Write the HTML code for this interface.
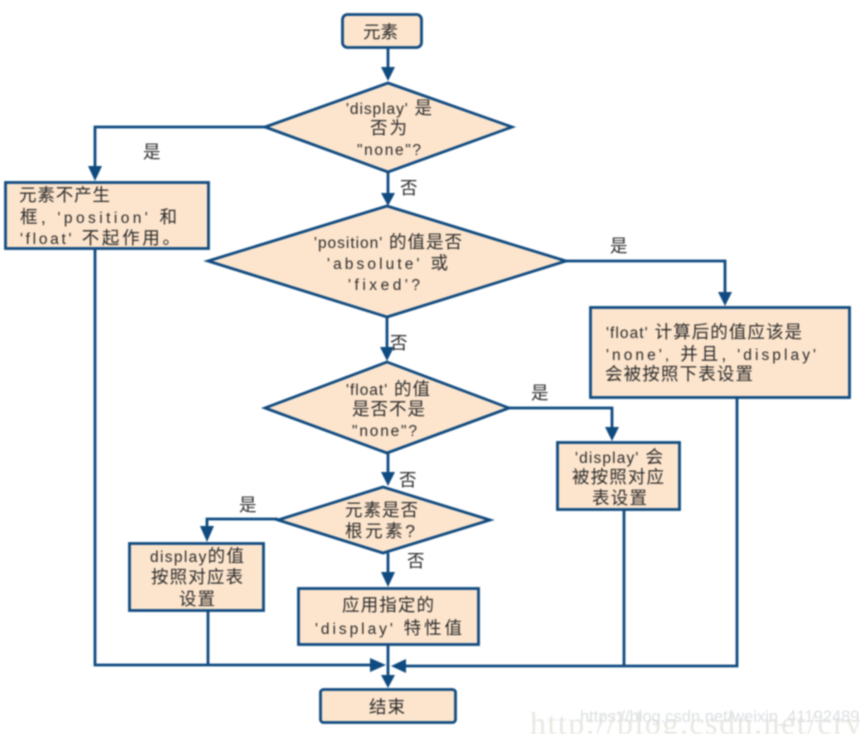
<!DOCTYPE html>
<html><head><meta charset="utf-8"><style>
html,body{margin:0;padding:0;background:#fff;width:860px;height:734px;overflow:hidden}
svg{display:block;filter:blur(.7px)}
.s{fill:#fde5cd;stroke:#0f4a80;stroke-width:2.8;stroke-linejoin:miter}
.l{fill:none;stroke:#0f4a80;stroke-width:2.8}
.a{fill:#0f4a80;stroke:none}
text{font-family:"Liberation Sans","WenQuanYi Zen Hei","Noto Sans CJK SC",sans-serif;font-size:17.5px;fill:#2a2a2a}
tspan{font-size:15.5px}
</style></head><body>
<svg width="860" height="734" viewBox="0 0 860 734" xmlns="http://www.w3.org/2000/svg">
<text x="530" y="734" style="font-family:'Liberation Serif',serif;font-size:32px;fill:#e8e8e2;letter-spacing:1.5px">http://blog.csdn.net/cry</text>
<text x="580" y="722" style="font-size:16.5px;fill:#dcdfe2">https://blog.csdn.net/weixin_41192489</text>

<path class="l" d="M388 47V70M388 172V195M387 317V350M388 453V476M265 127H95V170M566 261H725V296M509 408H612V430M278 519H207V532M388 553V577M388 645V678M95 249V665H374M208 610V665M737 398V666H404M624 509V666"/>
<path class="a" d="M381 67H395L388 81ZM381 193H395L388 206ZM380 347H394L387 361ZM381 472H395L388 486ZM88 166H102L95 181ZM718 292H732L725 306ZM605 427H619L612 441ZM200 526H214L207 542ZM381 572H395L388 587ZM381 675H395L388 688ZM370 658V672L386 665ZM406 659V673L391 666Z"/>

<rect class="s" x="342.500" y="14.500" width="79" height="33" rx="5"/>
<polygon class="s" points="388,83 512,127 388,172 265,127"/>
<rect class="s" x="5.500" y="182.500" width="203" height="66"/>
<polygon class="s" points="387,206 566,261 387,317 208,261"/>
<rect class="s" x="590.500" y="307.500" width="259" height="90"/>
<polygon class="s" points="387,362 509,408 387,453 265,408"/>
<rect class="s" x="557.500" y="442.500" width="122" height="67"/>
<polygon class="s" points="383,487 490,520 383,553 278,520"/>
<rect class="s" x="129.500" y="543.500" width="134" height="67"/>
<rect class="s" x="298.500" y="588.500" width="180" height="56"/>
<rect class="s" x="320.500" y="689.500" width="135" height="33" rx="3"/>

<text x="363" y="38" textLength="35">元素</text>
<text x="346" y="114" textLength="86"><tspan>'display'</tspan> 是</text>
<text x="370" y="134" textLength="37">否为</text>
<text x="357" y="155" textLength="64"><tspan>"none"?</tspan></text>
<text x="143" y="158" textLength="18">是</text>
<text x="400" y="194" textLength="18">否</text>
<text x="19" y="201" textLength="91">元素不产生</text>
<text x="20" y="223" textLength="157">框, <tspan>'position'</tspan> 和</text>
<text x="20" y="244" textLength="160"><tspan>'float'</tspan> 不起作用。</text>
<text x="314" y="248" textLength="148"><tspan>'position'</tspan> 的值是否</text>
<text x="327" y="269" textLength="121"><tspan>'absolute'</tspan> 或</text>
<text x="348" y="290" textLength="72"><tspan>'fixed'?</tspan></text>
<text x="610" y="252" textLength="18">是</text>
<text x="390" y="349" textLength="18">否</text>
<text x="606" y="338" textLength="196"><tspan>'float'</tspan> 计算后的值应该是</text>
<text x="606" y="360" textLength="210"><tspan>'none',</tspan> 并且, <tspan>'display'</tspan></text>
<text x="605" y="380" textLength="148">会被按照下表设置</text>
<text x="346" y="395" textLength="84"><tspan>'float'</tspan> 的值</text>
<text x="352" y="415" textLength="73">是否不是</text>
<text x="352" y="436" textLength="65"><tspan>"none"?</tspan></text>
<text x="531" y="399" textLength="18">是</text>
<text x="399" y="486" textLength="18">否</text>
<text x="575" y="463" textLength="88"><tspan>'display'</tspan> 会</text>
<text x="572" y="483" textLength="92">被按照对应</text>
<text x="592" y="504" textLength="55">表设置</text>
<text x="239" y="511" textLength="18">是</text>
<text x="345" y="516" textLength="73">元素是否</text>
<text x="345" y="537" textLength="70">根元素?</text>
<text x="407" y="567" textLength="18">否</text>
<text x="150" y="562" textLength="94"><tspan>display</tspan>的值</text>
<text x="151" y="583" textLength="92">按照对应表</text>
<text x="179" y="605" textLength="36">设置</text>
<text x="342" y="611" textLength="92">应用指定的</text>
<text x="315" y="634" textLength="147"><tspan>'display'</tspan> 特性值</text>
<text x="369" y="713" textLength="36">结束</text>
</svg>
</body></html>
